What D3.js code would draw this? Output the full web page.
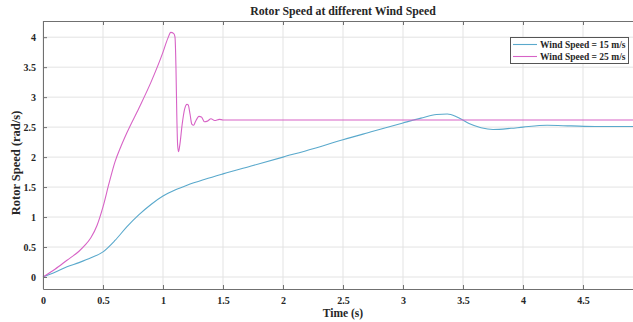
<!DOCTYPE html>
<html>
<head>
<meta charset="utf-8">
<script src="https://cdn.jsdelivr.net/npm/d3@7"></script>
<style>
  html, body { margin: 0; padding: 0; background: #fff; }
  svg { display: block; }
  text { font-family: "Liberation Serif", "Times New Roman", serif; font-weight: bold; fill: #262626; }
</style>
</head>
<body>
<svg id="chart" width="633" height="322"></svg>
<script>
const title = "Rotor Speed at different Wind Speed";
const xLabel = "Time (s)";
const yLabel = "Rotor Speed (rad/s)";
const xTicks = [0, 0.5, 1, 1.5, 2, 2.5, 3, 3.5, 4, 4.5];
const yTicks = [0, 0.5, 1, 1.5, 2, 2.5, 3, 3.5, 4];
const seriesNames = ["Wind Speed = 15 m/s", "Wind Speed = 25 m/s"];
const seriesColors = ["#5aa9cc", "#d763c6"];

const time15 = [0, 0.1, 0.2, 0.3, 0.4, 0.5, 0.6, 0.7, 0.8, 0.9, 1.0, 1.1, 1.2, 1.35, 1.5, 1.75, 2.0, 2.25, 2.5, 2.75, 3.0, 3.15, 3.28, 3.37, 3.45, 3.55, 3.65, 3.75, 3.9, 4.0, 4.2, 4.4, 4.6, 5.0];
const speed15 = [0, 0.08, 0.17, 0.24, 0.32, 0.42, 0.61, 0.84, 1.04, 1.21, 1.35, 1.45, 1.53, 1.63, 1.72, 1.86, 2.0, 2.14, 2.29, 2.43, 2.57, 2.65, 2.71, 2.72, 2.67, 2.56, 2.49, 2.46, 2.48, 2.5, 2.53, 2.52, 2.51, 2.51];

const time25 = [0, 0.1, 0.2, 0.3, 0.35, 0.4, 0.45, 0.5, 0.55, 0.6, 0.65, 0.7, 0.8, 0.9, 1.0, 1.04, 1.065, 1.09, 1.1, 1.108, 1.115, 1.122, 1.13, 1.14, 1.16, 1.18, 1.2, 1.21, 1.225, 1.24, 1.255, 1.27, 1.3, 1.32, 1.345, 1.37, 1.4, 1.43, 1.47, 1.5, 2.0, 3.0, 4.0, 5.0];
const speed25 = [0, 0.13, 0.28, 0.43, 0.53, 0.66, 0.86, 1.17, 1.56, 1.92, 2.18, 2.41, 2.82, 3.25, 3.75, 3.98, 4.08, 4.06, 4.0, 3.5, 2.7, 2.2, 2.09, 2.2, 2.55, 2.8, 2.88, 2.87, 2.72, 2.55, 2.53, 2.59, 2.68, 2.67, 2.59, 2.6, 2.64, 2.61, 2.63, 2.62, 2.62, 2.62, 2.62, 2.62];

const svg = d3.select("#chart");
const mLeft = 43, mTop = 21, mBottom = 289, mRight = 643;
const x = d3.scaleLinear().domain([0, 5]).range([mLeft, mRight]);
const y = d3.scaleLinear().domain([-0.2, 4.27]).range([mBottom, mTop]);

// grid
const grid = svg.append("g");
grid.selectAll("line.gx").data(xTicks).join("line").attr("class", "gx")
  .attr("x1", d => x(d)).attr("x2", d => x(d)).attr("y1", mTop).attr("y2", mBottom)
  .attr("stroke", "#e3e3e3").attr("stroke-width", 1);
grid.selectAll("line.gy").data(yTicks).join("line").attr("class", "gy")
  .attr("x1", mLeft).attr("x2", mRight).attr("y1", d => y(d)).attr("y2", d => y(d))
  .attr("stroke", "#e3e3e3").attr("stroke-width", 1);

// lines
const line = d3.line().x(d => x(d[0])).y(d => y(d[1])).curve(d3.curveMonotoneX);
const data15 = time15.map((t, i) => [t, speed15[i]]);
const data25 = time25.map((t, i) => [t, speed25[i]]);
svg.append("path").datum(data15).attr("d", line).attr("fill", "none")
  .attr("stroke", seriesColors[0]).attr("stroke-width", 1.1);
svg.append("path").datum(data25).attr("d", line).attr("fill", "none")
  .attr("stroke", seriesColors[1]).attr("stroke-width", 1.1);

// axes
const axisColor = "#707070";
const xAxis = svg.append("g").attr("transform", `translate(0,${mBottom})`)
  .call(d3.axisBottom(x).tickValues(xTicks).tickSizeInner(-4).tickSizeOuter(0).tickPadding(8).tickFormat(d3.format("")));
const xAxisTop = svg.append("g").attr("transform", `translate(0,${mTop})`)
  .call(d3.axisTop(x).tickValues(xTicks).tickSizeInner(-4).tickSizeOuter(0).tickFormat(""));
const yAxis = svg.append("g").attr("transform", `translate(${mLeft},0)`)
  .call(d3.axisLeft(y).tickValues(yTicks).tickSizeInner(-4).tickSizeOuter(0).tickPadding(7).tickFormat(d3.format("")));
[xAxis, xAxisTop, yAxis].forEach(g => {
  g.select(".domain").attr("stroke", axisColor);
  g.selectAll(".tick line").attr("stroke", axisColor);
  g.selectAll(".tick text").style("font-size", "10px").style("font-family", "Liberation Serif, serif").style("font-weight", "bold").attr("fill", "#262626");
});

// title and labels
svg.append("text").attr("x", 343).attr("y", 15).attr("text-anchor", "middle")
  .style("font-size", "11.8px").text(title);
svg.append("text").attr("x", 343).attr("y", 317).attr("text-anchor", "middle")
  .style("font-size", "11.5px").text(xLabel);
svg.append("text").attr("transform", `translate(20,${(mTop + mBottom) / 2 + 8}) rotate(-90)`)
  .attr("text-anchor", "middle").style("font-size", "12.5px").text(yLabel);

// legend
const lg = svg.append("g");
lg.append("rect").attr("x", 510.5).attr("y", 37.5).attr("width", 118).attr("height", 26)
  .attr("fill", "#fff").attr("stroke", "#555").attr("stroke-width", 1);
seriesNames.forEach((name, i) => {
  const yy = 44.5 + i * 12;
  lg.append("line").attr("x1", 513).attr("x2", 537).attr("y1", yy).attr("y2", yy)
    .attr("stroke", seriesColors[i]).attr("stroke-width", 1.1);
  lg.append("text").attr("x", 540).attr("y", yy + 3.3).style("font-size", "9.5px").text(name);
});
</script>
</body>
</html>
